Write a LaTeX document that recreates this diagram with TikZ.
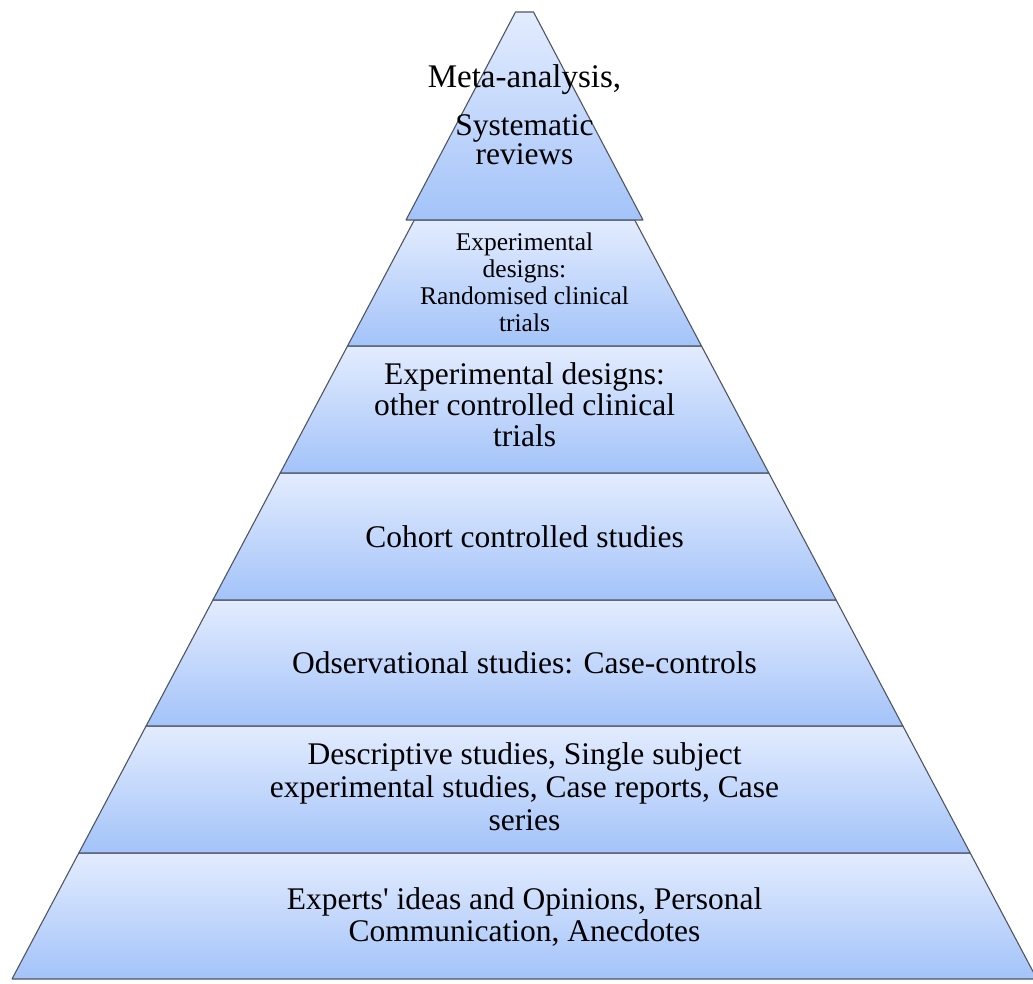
\documentclass[tikz,border=0pt]{standalone}
\usepackage{fontspec}
\setmainfont{Liberation Serif}
\newfontfamily\plainserif{Liberation Serif}
\definecolor{topblue}{HTML}{E3ECFE}
\definecolor{botblue}{HTML}{A3C3F9}
\definecolor{edgegray}{HTML}{4F5662}
\begin{document}
\begin{tikzpicture}[x=1pt,y=-1pt,
  levelbox/.style={top color=topblue, bottom color=botblue, draw=edgegray, line width=1.1pt, line join=round},
  lbl/.style={align=center, text=black, inner sep=0pt, font=\fontsize{31.5}{33}\selectfont},
  smalllbl/.style={align=center, text=black, inner sep=0pt, font=\fontsize{25.5}{27}\selectfont}]
\useasboundingbox (0,0) rectangle (1033,983);
\begin{scope}
\clip (0,0) rectangle (1033,983);
% level 7 (bottom)
\path[levelbox] (78.8,853) -- (970.2,853) -- (1037,979) -- (12,979) -- cycle;
% level 6
\path[levelbox] (146.1,726) -- (902.9,726) -- (970.2,853) -- (78.8,853) -- cycle;
% level 5
\path[levelbox] (212.9,600) -- (836.1,600) -- (902.9,726) -- (146.1,726) -- cycle;
% level 4
\path[levelbox] (280.2,473) -- (768.8,473) -- (836.1,600) -- (212.9,600) -- cycle;
% level 3
\path[levelbox] (347.5,346) -- (701.5,346) -- (768.8,473) -- (280.2,473) -- cycle;
% level 2
\path[levelbox] (414.3,220) -- (634.7,220) -- (701.5,346) -- (347.5,346) -- cycle;
% top
\path[levelbox] (515.5,12) -- (533.5,12) -- (643,220) -- (406,220) -- cycle;
\end{scope}

\node[lbl, anchor=base, font=\fontsize{33}{35}\selectfont] (meta) at (524.5,87) {Meta-analysis,};
\node[lbl, font=\fontsize{31.5}{29}\selectfont] (sys) at (524.5,139.5) {Systematic\\reviews};
\node[smalllbl] (rct) at (524.5,282) {Experimental\\designs:\\Randomised clinical\\trials};
\node[lbl, font=\fontsize{31.5}{31}\selectfont] (cct) at (524.5,405) {Experimental designs:\\other controlled clinical\\trials};
\node[lbl, anchor=base] (cohort) at (524.5,547) {Cohort controlled studies};
\node[lbl, anchor=base] (obs) at (524.5,673) {Odservational studies: Case-controls};
\node[lbl] (desc) at (524.5,786.5) {Descriptive studies, Single subject\\experimental studies, Case reports, Case\\series};
\node[lbl, font=\plainserif\fontsize{31.5}{32}\selectfont] (exp) at (524.5,917) {Experts' ideas and Opinions, Personal\\Communication, Anecdotes};
\end{tikzpicture}
\end{document}
